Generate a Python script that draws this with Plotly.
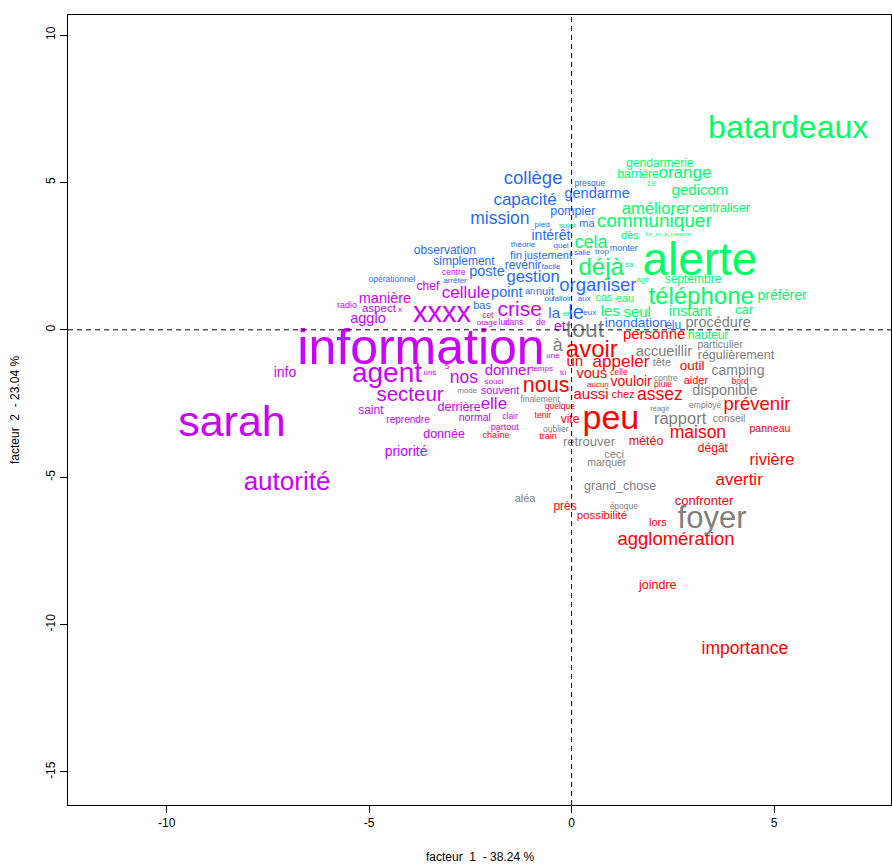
import plotly.graph_objects as go

# Correspondence analysis word map: coordinates on factor 1 / factor 2, one list set per class

# class 1 (red)
red_words = ["avoir", "un", "appeler", "vous", "celle", "aucun", "vouloir", "chez", "aussi", "assez",
             "nous", "peu", "quelque", "tenir", "vite", "chaîne", "train", "personne", "outil", "aider",
             "bord", "pluie", "prévenir", "panneau", "maison", "météo", "dégât", "rivière", "avertir",
             "confronter", "agglomération", "lors", "possibilité", "près", "joindre", "importance"]
red_f1 = [0.50, 0.08, 1.22, 0.50, 1.17, 0.65, 1.47, 1.27, 0.48, 2.18,
          -0.63, 0.97, -0.29, -0.71, -0.04, -1.87, -0.58, 2.04, 2.98, 3.07,
          4.16, 2.26, 4.58, 4.90, 3.12, 1.84, 3.49, 4.95, 4.14,
          3.27, 2.58, 2.13, 0.75, -0.16, 2.13, 4.28]
red_f2 = [-0.72, -1.09, -1.11, -1.50, -1.47, -1.87, -1.80, -2.21, -2.21, -2.23,
          -1.94, -3.06, -2.62, -2.92, -3.06, -3.60, -3.64, -0.18, -1.26, -1.74,
          -1.77, -1.87, -2.58, -3.37, -3.53, -3.81, -4.04, -4.44, -5.12,
          -5.84, -7.13, -6.55, -6.32, -6.01, -8.69, -10.86]
red_size = [24, 15, 17, 14.5, 8.5, 8, 14, 11, 15, 17.5,
            21.5, 34, 8.5, 8.5, 12, 9, 9, 15, 13.5, 11,
            8.5, 8.5, 18.5, 10.5, 17.5, 12.5, 12, 16.5, 17,
            13, 18.5, 11, 11.5, 12, 12.5, 17.5]

# class 2 (grey)
grey_words = ["tout", "à", "procédure", "accueillir", "particulier", "régulièrement", "tête", "contre",
              "camping", "disponible", "employé", "réagir", "rapport", "conseil", "finalement", "oublier",
              "retrouver", "ceci", "marquer", "grand_chose", "aléa", "époque", "foyer", "mode"]
grey_f1 = [0.33, -0.34, 3.62, 2.28, 3.67, 4.06, 2.23, 2.33,
           4.11, 3.79, 3.30, 2.18, 2.68, 3.89, -0.78, -0.39,
           0.43, 1.05, 0.87, 1.20, -1.15, 1.29, 3.47, -2.58]
grey_f2 = [-0.04, -0.57, 0.23, -0.75, -0.52, -0.89, -1.13, -1.67,
           -1.40, -2.08, -2.58, -2.69, -3.06, -3.03, -2.38, -3.40,
           -3.84, -4.25, -4.52, -5.33, -5.74, -6.01, -6.45, -2.08]
grey_size = [23, 18, 14.5, 14.5, 10.5, 12.5, 11, 8.5,
             14, 14.5, 8.5, 7.5, 16.5, 10.5, 8.5, 8.5,
             13, 11, 10.5, 12.5, 11, 8.5, 31, 8]

# class 3 (green)
green_words = ["batardeaux", "alerte", "téléphone", "déjà", "communiquer", "améliorer", "gendarmerie",
               "barrière", "orange", "19", "gedicom", "centraliser", "dès", "fur_et_à_mesure", "cela",
               "sujet", "sa", "agir", "septembre", "cas", "eau", "les", "seul", "instant", "car",
               "préférer", "hauteur", "en"]
green_f1 = [5.35, 3.17, 3.20, 0.73, 2.04, 2.09, 2.18,
            1.64, 2.80, 1.96, 3.17, 3.69, 1.44, 2.38, 0.48,
            -0.11, 1.42, 1.76, 3.00, 0.80, 1.32, 0.95, 1.62, 2.93, 4.26,
            5.20, 3.37, -0.11]
green_f2 = [6.78, 2.24, 1.08, 2.06, 3.66, 4.08, 5.62,
            5.25, 5.29, 4.95, 4.69, 4.10, 3.18, 3.22, 2.94,
            3.52, 2.20, 1.69, 1.69, 1.08, 1.04, 0.58, 0.55, 0.58, 0.64,
            1.13, -0.21, 0.54]
green_size = [32, 46, 24, 24, 19, 16.5, 12,
              12, 17, 8, 15, 12.5, 11, 6, 18,
              8, 8, 8, 12, 11, 11, 15, 15, 14.5, 13,
              14, 12, 8]

# class 4 (blue)
blue_words = ["collège", "capacité", "mission", "gendarme", "presque", "pompier", "ma", "pied", "intérêt",
              "théorie", "quel", "salle", "trop", "monter", "observation", "fin", "justement", "simplement",
              "revenir", "facile", "poste", "gestion", "opérationnel", "arrêter", "organiser", "an", "nuit",
              "point", "ou", "falloir", "aux", "eux", "bas", "la", "le", "inondation", "élu"]
blue_f1 = [-0.95, -1.15, -1.77, 0.63, 0.45, 0.03, 0.38, -0.73, -0.51,
           -1.20, -0.26, 0.26, 0.75, 1.29, -3.13, -1.37, -0.58, -2.66,
           -1.20, -0.51, -2.09, -0.95, -4.44, -2.88, 0.65, -1.03, -0.66,
           -1.60, -0.56, -0.24, 0.31, 0.45, -2.21, -0.43, 0.11, 1.59, 2.51]
blue_f2 = [5.12, 4.37, 3.73, 4.59, 4.95, 4.00, 3.59, 3.55, 3.16,
           2.88, 2.84, 2.61, 2.64, 2.74, 2.67, 2.50, 2.50, 2.30,
           2.16, 2.13, 1.94, 1.76, 1.69, 1.66, 1.48, 1.28, 1.28,
           1.23, 1.04, 1.04, 1.04, 0.57, 0.81, 0.52, 0.55, 0.20, 0.13]
blue_size = [18.5, 17, 17.5, 14.5, 8.5, 12.5, 11, 8, 14,
             8, 8, 8, 8, 9, 12, 11.5, 11, 12,
             12, 8, 14.5, 16.5, 8.5, 8, 18.5, 9, 11,
             14.5, 8, 8, 8, 8, 11, 15, 20, 13.5, 12]

# class 5 (magenta)
magenta_words = ["centre", "chef", "cellule", "manière", "radio", "aspect", "x", "agglo", "xxxx", "cet",
                 "orage", "lui", "dans", "de", "crise", "et", "information", "info", "sarah", "autorité",
                 "agent", "uns", "5", "nos", "secteur", "saint", "reprendre", "derrière", "donnée",
                 "priorité", "normal", "elle", "donner", "souci", "souvent", "temps", "une", "tu",
                 "clair", "partout"]
magenta_f1 = [-2.91, -3.55, -2.61, -4.61, -5.55, -4.76, -4.24, -5.03, -3.20, -2.07,
              -2.09, -1.70, -1.42, -0.76, -1.28, -0.29, -3.72, -7.08, -8.39, -7.03,
              -4.56, -3.50, -3.08, -2.66, -3.99, -4.96, -4.04, -2.78, -3.15,
              -4.09, -2.39, -1.92, -1.57, -1.92, -1.77, -0.73, -0.46, -0.21,
              -1.52, -1.65]
magenta_f2 = [1.93, 1.45, 1.22, 1.02, 0.81, 0.71, 0.67, 0.35, 0.50, 0.47,
              0.23, 0.23, 0.23, 0.23, 0.64, 0.07, -0.72, -1.47, -3.25, -5.20,
              -1.54, -1.47, -1.26, -1.66, -2.25, -2.75, -3.06, -2.65, -3.57,
              -4.15, -2.99, -2.55, -1.40, -1.77, -2.08, -1.33, -0.89, -1.47,
              -2.96, -3.33]
magenta_size = [8.5, 12, 17, 14.5, 9, 11.5, 8, 14.5, 29, 8.5,
                8, 8.5, 8.5, 8.5, 21, 14, 50, 14, 43, 26,
                28, 8, 8, 17.5, 20.5, 12, 10, 12.5, 12.5,
                14, 10.5, 17, 15, 8, 11, 8, 8, 7.5,
                8.5, 9]

x_ticks = [-10, -5, 0, 5]
y_ticks = [-15, -10, -5, 0, 5, 10]
x_title = "facteur  1  - 38.24 %"
y_title = "facteur  2  - 23.04 %"

FONT = "Liberation Sans, Arial, Helvetica, sans-serif"

classes = [
    (red_words, red_f1, red_f2, red_size, "#FF0000"),
    (grey_words, grey_f1, grey_f2, grey_size, "#808080"),
    (green_words, green_f1, green_f2, green_size, "#00FF66"),
    (blue_words, blue_f1, blue_f2, blue_size, "#1F6BFF"),
    (magenta_words, magenta_f1, magenta_f2, magenta_size, "#CC00FF"),
]

fig = go.Figure()
for words, f1, f2, sizes, color in classes:
    fig.add_trace(go.Scatter(
        x=f1, y=f2, text=words, mode="text",
        textposition="middle center",
        textfont=dict(family=FONT, size=sizes, color=color),
        hoverinfo="skip", cliponaxis=False, showlegend=False,
    ))

# dashed axes through the origin
dash_line = dict(color="black", width=1, dash="5px,4px")
fig.add_shape(type="line", xref="x", yref="paper", x0=0, x1=0, y0=0, y1=1, line=dash_line)
fig.add_shape(type="line", xref="paper", yref="y", x0=0, x1=1, y0=0, y1=0, line=dash_line)

axis_common = dict(
    showgrid=False, zeroline=False, showline=True, mirror=True,
    linecolor="black", linewidth=1, ticks="outside", ticklen=7,
    tickcolor="black", tickfont=dict(family=FONT, size=12, color="black"),
)
fig.update_xaxes(range=[-12.44, 7.89], tickmode="array", tickvals=x_ticks,
                 ticktext=[str(v) for v in x_ticks], **axis_common)
fig.update_yaxes(range=[-16.12, 10.68], tickmode="array", tickvals=y_ticks,
                 ticktext=[str(v) for v in y_ticks], tickangle=-90, **axis_common)

fig.add_annotation(text=x_title, xref="paper", yref="paper", x=0.5, y=-0.066,
                   xanchor="center", yanchor="middle", showarrow=False,
                   font=dict(family=FONT, size=12, color="black"))
fig.add_annotation(text=y_title, xref="paper", yref="paper", x=-0.0644, y=0.5,
                   xanchor="center", yanchor="middle", showarrow=False, textangle=-90,
                   font=dict(family=FONT, size=12, color="black"))

fig.update_layout(
    width=892, height=865,
    margin=dict(l=68, r=1, t=15, b=60),
    plot_bgcolor="white", paper_bgcolor="white",
)

fig.write_html("out.html")
